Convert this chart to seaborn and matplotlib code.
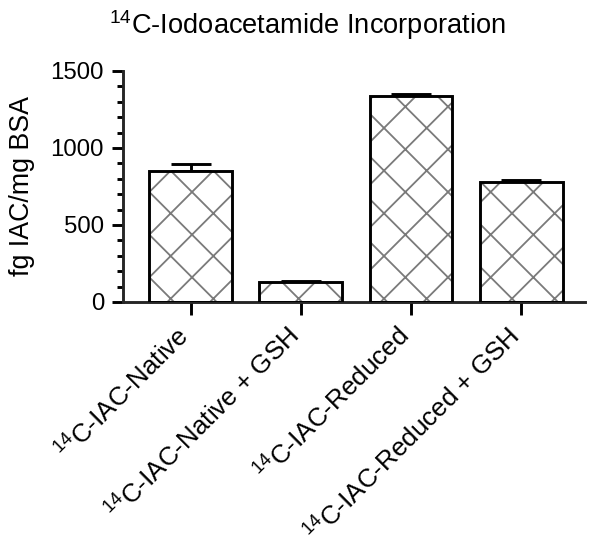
import numpy as np
import pandas as pd
import matplotlib
matplotlib.use('Agg')
import matplotlib.pyplot as plt
import matplotlib.transforms as mtransforms
import seaborn as sns
from matplotlib.ticker import MultipleLocator

# values
groups = ['$^{14}$C-IAC-Native', '$^{14}$C-IAC-Native + GSH',
          '$^{14}$C-IAC-Reduced', '$^{14}$C-IAC-Reduced + GSH']
means = [852, 132, 1338, 780]
errors = [42, 5, 12, 12]

df = pd.DataFrame({'group': groups, 'value': means})

# dpi chosen so the 'x' hatch has the same spacing as the reference
DPI = 128


def px(v):
    # pixel size -> points
    return v * 72 / DPI


sns.set_style('ticks')
plt.rcParams['font.family'] = ['Liberation Sans', 'DejaVu Sans']
plt.rcParams['mathtext.default'] = 'regular'
plt.rcParams['hatch.linewidth'] = px(1.8)
plt.rcParams['text.color'] = 'black'
plt.rcParams['axes.labelcolor'] = 'black'
plt.rcParams['xtick.color'] = 'black'
plt.rcParams['ytick.color'] = 'black'

fig = plt.figure(figsize=(602 / DPI, 546 / DPI), dpi=DPI)
ax = fig.add_axes([0.204, 0.447, 0.768, 0.423])

# hatched fill in grey, then black outlines on top
sns.barplot(data=df, x='group', y='value', color='white', edgecolor='#7a7a7a',
            hatch='x', linewidth=0, width=0.75, ax=ax, zorder=2)
sns.barplot(data=df, x='group', y='value', fill=False, edgecolor='black',
            linewidth=px(2.9), width=0.75, ax=ax, zorder=3)

ax.errorbar(np.arange(len(means)), means, yerr=[np.zeros(len(errors)), errors],
            fmt='none', ecolor='black', elinewidth=px(2.9), capsize=px(20),
            capthick=px(2.9), zorder=1)

ax.set_xlim(-0.615, 3.58)
ax.set_ylim(0, 1500)
ax.yaxis.set_major_locator(MultipleLocator(500))
ax.yaxis.set_minor_locator(MultipleLocator(100))

for side in ['top', 'right']:
    ax.spines[side].set_visible(False)
for side in ['left', 'bottom']:
    ax.spines[side].set_linewidth(px(2.9))

ax.tick_params(axis='y', which='major', length=px(10.7), width=px(2.9),
               labelsize=px(24), pad=px(8))
ax.tick_params(axis='y', which='minor', length=px(6), width=px(2.9))
ax.tick_params(axis='x', length=px(12.8), width=px(2.9), labelsize=px(26),
               pad=px(5))
shift = mtransforms.ScaledTranslation(px(-15) / 72, px(-3) / 72, fig.dpi_scale_trans)
for lab in ax.get_xticklabels():
    lab.set_rotation(45)
    lab.set_ha('right')
    lab.set_rotation_mode('anchor')
    lab.set_transform(lab.get_transform() + shift)

ax.set_xlabel('')
ax.set_ylabel('fg IAC/mg BSA', fontsize=px(26.7), labelpad=px(16))
fig.text(0.51, 0.938, '$^{14}$C-Iodoacetamide Incorporation', ha='center',
         va='baseline', fontsize=px(27.2))

fig.savefig('out.png', dpi=DPI)
